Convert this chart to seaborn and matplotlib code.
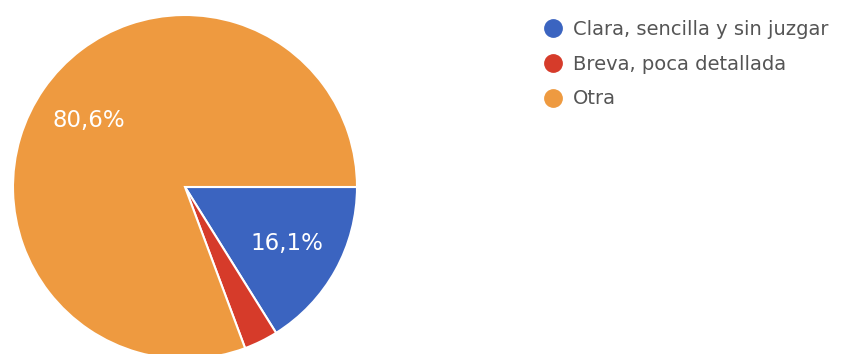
import matplotlib
matplotlib.use("Agg")
import matplotlib.pyplot as plt
from matplotlib.lines import Line2D
import seaborn as sns

# Survey answers and their shares (%)
categories = ["Clara, sencilla y sin juzgar", "Breva, poca detallada", "Otra"]
shares = [16.1, 3.2, 80.6]
slice_colors = ["#3B64C0", "#D63B2A", "#EE9A40"]

sns.set_theme(style="white")
plt.rcParams["font.family"] = ["DejaVu Sans"]

W, H = 850, 354
fig = plt.figure(figsize=(W / 100, H / 100), dpi=100)
fig.patch.set_facecolor("white")

# Pie area: circle centred at (185, 187) px with radius 172 px
cx, cy, r = 185, 187, 172
ax = fig.add_axes([(cx - r) / W, (H - cy - r) / H, 2 * r / W, 2 * r / H])

wedges, _, autotexts = ax.pie(
    shares,
    colors=sns.color_palette(slice_colors),
    startangle=0,
    counterclock=False,
    autopct="%1.1f",
    pctdistance=0.68,
    wedgeprops=dict(edgecolor="white", linewidth=1.5),
    textprops=dict(color="white", fontsize=16.5),
)
for t, v in zip(autotexts, shares):
    t.set_text(f"{v:.1f}%".replace(".", ",") if v >= 5 else "")

ax.set_xlim(-1, 1)
ax.set_ylim(-1, 1)
ax.set_aspect("equal")
ax.axis("off")

handles = [
    Line2D([], [], marker="o", linestyle="", markersize=12.5,
           markerfacecolor=c, markeredgecolor=c)
    for c in slice_colors
]
fs = 14
fig.legend(
    handles, categories,
    loc="upper left",
    bbox_to_anchor=(543 / W, (H - 20) / H),
    frameon=False,
    fontsize=fs,
    handlelength=1.0,
    handletextpad=0.55,
    labelspacing=0.81,
    borderpad=0,
    borderaxespad=0,
    labelcolor="#555555",
)

fig.savefig("out.png", dpi=100, facecolor="white")
